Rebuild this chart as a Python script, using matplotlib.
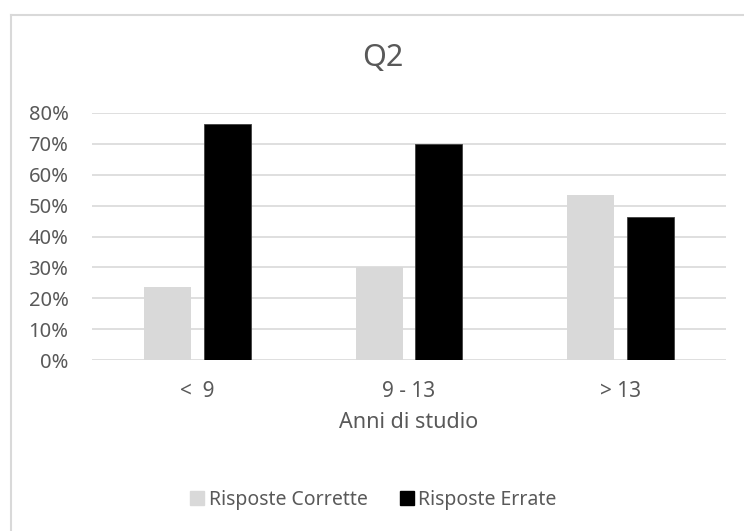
import numpy as np
import matplotlib
matplotlib.use("Agg")
import matplotlib.pyplot as plt
from matplotlib.lines import Line2D

# Dati del grafico
categorie = ["<  9", "9 - 13", "> 13"]
risposte_corrette = [0.237, 0.302, 0.536]
risposte_errate = [0.763, 0.698, 0.464]
serie = ["Risposte Corrette", "Risposte Errate"]

plt.rcParams['font.family'] = ['Noto Sans', 'DejaVu Sans']
grigio_testo = '#595959'

fig = plt.figure(figsize=(7.44, 5.31), dpi=100)
ax = fig.add_axes([92 / 744, 1 - 360 / 531, 634 / 744, 247 / 531])

x = np.arange(len(categorie))
larghezza = 0.222
offset = 0.141
ax.bar(x - offset, risposte_corrette, larghezza, color='#d9d9d9', label=serie[0], zorder=3)
ax.bar(x + offset, risposte_errate, larghezza, color='black', edgecolor='#404040',
       linewidth=0.6, label=serie[1], zorder=3)

ax.set_xlim(-0.5, 2.5)
ax.set_ylim(0, 0.8)
ax.set_yticks(np.arange(0, 0.81, 0.1))
ax.set_yticklabels([f"{int(round(v * 100))}%" for v in np.arange(0, 0.81, 0.1)])
ax.set_xticks(x)
ax.set_xticklabels(categorie)
ax.tick_params(axis='both', length=0, colors=grigio_testo, labelsize=14.5)
ax.tick_params(axis='y', pad=17)
ax.tick_params(axis='x', pad=15, labelsize=15)
ax.grid(axis='y', color='#d9d9d9', linewidth=1.2, zorder=0)
for s in ax.spines.values():
    s.set_visible(False)

ax.set_xlabel("Anni di studio", fontsize=15.5, color=grigio_testo, labelpad=7)
fig.text(383 / 744, 1 - 58 / 531, "Q2", fontsize=22, color=grigio_testo,
         ha='center', va='center')

# Legenda
maniglie = [Line2D([], [], marker='s', linestyle='', markersize=10,
                   markerfacecolor='#d9d9d9', markeredgecolor='#d9d9d9'),
            Line2D([], [], marker='s', linestyle='', markersize=10,
                   markerfacecolor='black', markeredgecolor='black')]
fig.legend(maniglie, serie, loc='center', bbox_to_anchor=(372 / 744, 1 - 500 / 531),
           ncol=2, frameon=False, fontsize=14, labelcolor=grigio_testo,
           handletextpad=0.1, columnspacing=1.5, handlelength=1.0)

# Bordo dell'area del grafico (visibili solo lato superiore e sinistro)
fig.add_artist(Line2D([11 / 744, 1], [1 - 15 / 531, 1 - 15 / 531], color='#d9d9d9',
                      linewidth=1.5, transform=fig.transFigure))
fig.add_artist(Line2D([11 / 744, 11 / 744], [0, 1 - 15 / 531], color='#d9d9d9',
                      linewidth=1.5, transform=fig.transFigure))

fig.savefig("out.png", dpi=100, facecolor='white')
